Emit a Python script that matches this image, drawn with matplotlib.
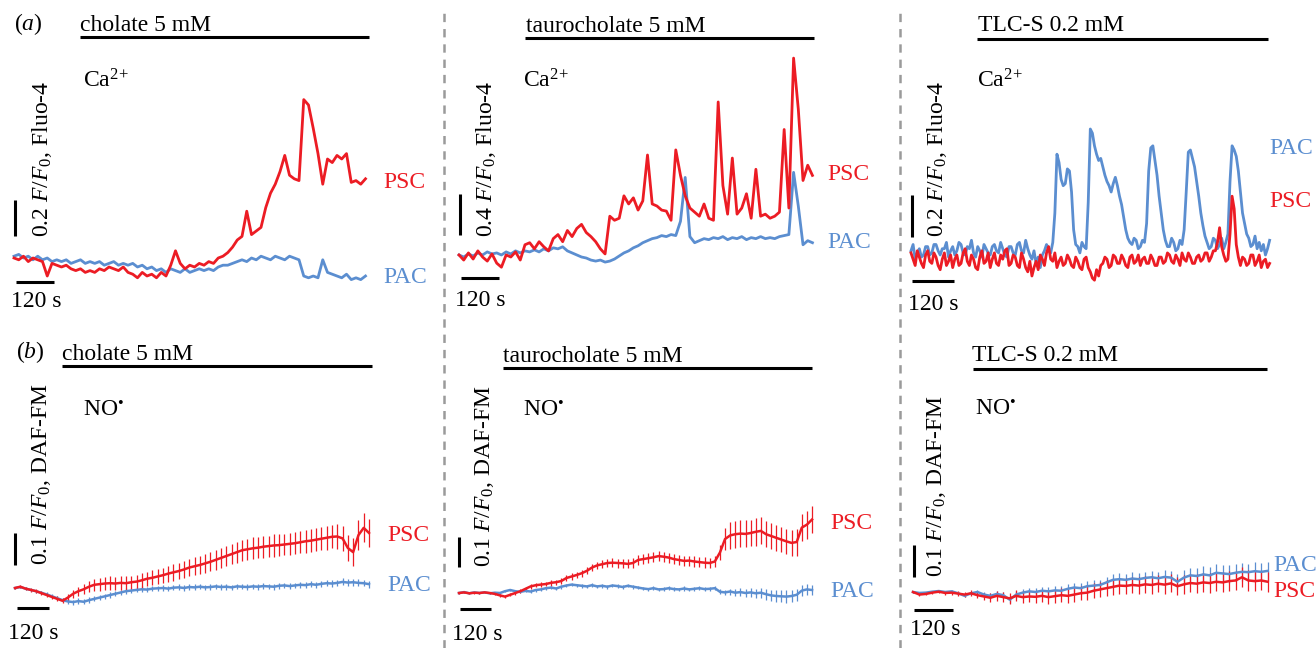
import numpy as np
import matplotlib
matplotlib.use("Agg")
import matplotlib.pyplot as plt
from matplotlib.lines import Line2D

plt.rcParams["font.family"] = "Liberation Serif"
plt.rcParams["mathtext.fontset"] = "custom"
plt.rcParams["mathtext.rm"] = "Liberation Serif"
plt.rcParams["mathtext.it"] = "Liberation Serif:italic"
plt.rcParams["lines.scale_dashes"] = False

W, H = 1316, 648
RED = "#ec1c24"
BLUE = "#5b8ed0"
FS = 17

# ---------------- data ----------------
# (a) Fluo-4 Ca2+ traces, change in F/F0 from start, one sample per dt seconds
a1_dt = 15
a1_psc = [0.00, -0.01, 0.01, -0.02, 0.00, -0.01, -0.02, -0.10, -0.03, -0.04,
          -0.05, -0.04, -0.06, -0.07, -0.06, -0.08, -0.07, -0.08, -0.06, -0.07,
          -0.05, -0.06, -0.07, -0.05, -0.08, -0.09, -0.11, -0.08, -0.10, -0.09,
          -0.11, -0.08, -0.10, -0.04, 0.04, -0.03, -0.06, -0.04, -0.05, -0.03,
          -0.04, -0.02, -0.03, 0.00, 0.01, 0.03, 0.06, 0.10, 0.12, 0.26,
          0.13, 0.15, 0.17, 0.28, 0.36, 0.41, 0.48, 0.57, 0.46, 0.44,
          0.43, 0.88, 0.85, 0.72, 0.58, 0.41, 0.55, 0.53, 0.57, 0.55,
          0.58, 0.42, 0.43, 0.41, 0.44]
a1_pac = [0.01, 0.02, 0.00, 0.01, -0.01, 0.01, -0.01, 0.00, -0.02, -0.01,
          -0.02, -0.01, -0.03, -0.02, -0.01, -0.03, -0.02, -0.03, -0.02, -0.04,
          -0.03, -0.02, -0.04, -0.03, -0.04, -0.03, -0.05, -0.04, -0.06, -0.05,
          -0.07, -0.06, -0.08, -0.06, -0.07, -0.08, -0.06, -0.08, -0.07, -0.06,
          -0.07, -0.06, -0.07, -0.05, -0.04, -0.04, -0.03, -0.02, -0.01, -0.02,
          0.00, -0.01, 0.01, 0.00, -0.01, 0.01, 0.00, -0.01, 0.01, 0.00,
          -0.01, -0.10, -0.11, -0.10, -0.11, -0.01, -0.08, -0.09, -0.10, -0.11,
          -0.09, -0.12, -0.11, -0.12, -0.10]

a2_dt = 15
a2_psc = [0.02, -0.03, 0.04, -0.02, 0.06, 0.00, -0.04, 0.03, -0.06, -0.10,
          0.02, 0.00, 0.05, -0.03, 0.12, 0.14, 0.08, 0.15, 0.10, 0.06,
          0.18, 0.22, 0.15, 0.26, 0.20, 0.28, 0.32, 0.24, 0.20, 0.15,
          0.08, 0.03, 0.40, 0.36, 0.38, 0.60, 0.52, 0.58, 0.46, 0.55,
          1.00, 0.52, 0.50, 0.46, 0.45, 0.36, 1.05, 0.80, 0.60, 0.48,
          0.44, 0.40, 0.52, 0.38, 0.36, 1.52, 0.70, 0.42, 0.97, 0.42,
          0.48, 0.62, 0.38, 0.86, 0.40, 0.42, 0.38, 0.40, 0.44, 1.25,
          0.48, 1.95, 1.45, 0.75, 0.90, 0.80]
a2_pac = [0.02, 0.00, 0.03, 0.01, 0.04, 0.02, 0.05, 0.03, 0.04, 0.02,
          0.05, 0.03, 0.06, 0.04, 0.06, 0.05, 0.07, 0.05, 0.08, 0.06,
          0.09, 0.08, 0.10, 0.06, 0.04, 0.02, 0.00, -0.01, -0.03, -0.04,
          -0.03, -0.05, -0.04, -0.02, 0.01, 0.04, 0.06, 0.09, 0.11, 0.14,
          0.16, 0.18, 0.19, 0.21, 0.20, 0.22, 0.21, 0.35, 0.78, 0.20,
          0.14, 0.16, 0.18, 0.17, 0.19, 0.18, 0.20, 0.17, 0.19, 0.18,
          0.20, 0.17, 0.19, 0.18, 0.20, 0.18, 0.19, 0.18, 0.20, 0.21,
          0.22, 0.83, 0.50, 0.12, 0.16, 0.14]

a3_dt = 6
a3_pac = [0.02, 0.05, -0.02, 0.01, 0.03, -0.01, 0.00, 0.04, 0.04, 0.00,
          0.01, 0.05, 0.05, 0.02, 0.00, 0.03, 0.03, 0.06, -0.01, 0.02,
          0.04, 0.00, 0.02, 0.06, 0.05, 0.01, 0.00, 0.04, 0.03, 0.07,
          0.01, -0.01, 0.04, 0.02, -0.01, 0.05, 0.03, 0.01, 0.00, 0.04,
          0.05, 0.02, 0.01, 0.06, 0.03, 0.00, -0.01, 0.04, 0.04, 0.01,
          0.00, 0.05, 0.06, 0.02, 0.01, 0.07, 0.03, 0.00, -0.02, 0.02,
          -0.04, -0.01, -0.06, 0.00, 0.02, 0.05, 0.03, 0.01, 0.06, 0.20,
          0.48, 0.44, 0.36, 0.33, 0.34, 0.41, 0.40, 0.30, 0.12, 0.05,
          0.04, 0.01, 0.06, 0.04, 0.03, 0.25, 0.60, 0.58, 0.52, 0.48,
          0.45, 0.46, 0.42, 0.38, 0.35, 0.33, 0.30, 0.34, 0.37, 0.33,
          0.28, 0.24, 0.18, 0.12, 0.08, 0.06, 0.05, 0.08, 0.07, 0.03,
          0.04, 0.07, 0.06, 0.15, 0.40, 0.51, 0.52, 0.45, 0.38, 0.28,
          0.20, 0.12, 0.07, 0.04, 0.04, 0.08, 0.06, 0.02, 0.03, 0.07,
          0.05, 0.12, 0.30, 0.49, 0.50, 0.46, 0.42, 0.35, 0.28, 0.20,
          0.14, 0.09, 0.06, 0.03, 0.04, 0.08, 0.07, 0.03, 0.05, 0.08,
          0.03, 0.06, 0.10, 0.35, 0.52, 0.50, 0.47, 0.40, 0.30, 0.20,
          0.15, 0.10, 0.08, 0.04, 0.05, 0.09, 0.03, 0.06, 0.02, 0.05,
          0.00, 0.03, 0.07]
a3_psc = [0.01, -0.02, -0.05, 0.02, -0.01, -0.04, -0.06, 0.00, 0.02, -0.03,
          -0.04, 0.01, -0.01, -0.05, -0.07, -0.02, 0.01, -0.05, -0.03, 0.00,
          -0.06, -0.02, 0.00, -0.05, -0.04, 0.01, 0.03, -0.03, -0.05, 0.00,
          -0.02, -0.06, -0.07, -0.01, 0.02, -0.04, -0.03, 0.01, -0.06, -0.02,
          0.01, -0.04, -0.05, 0.00, -0.02, 0.02, 0.03, -0.05, -0.04, 0.00,
          -0.01, -0.05, -0.06, 0.01, -0.02, -0.06, -0.08, -0.03, -0.10, -0.06,
          -0.03, -0.07, 0.00, -0.02, -0.05, 0.01, 0.04, -0.02, -0.03, 0.01,
          -0.06, -0.03, -0.01, -0.05, -0.04, 0.00, -0.02, -0.05, -0.06, -0.01,
          -0.03, -0.06, -0.07, -0.02, -0.01, -0.06, -0.08, -0.11, -0.12, -0.07,
          -0.10, -0.05, -0.04, -0.01, -0.02, -0.06, -0.05, 0.00, -0.01, -0.04,
          -0.04, 0.00, -0.02, -0.05, -0.06, -0.01, 0.00, -0.04, -0.03, 0.00,
          -0.05, -0.02, -0.01, -0.04, -0.04, 0.00, -0.02, -0.05, -0.05, -0.01,
          -0.01, -0.04, -0.03, 0.01, 0.00, -0.03, -0.04, 0.00, -0.02, -0.05,
          0.01, -0.02, -0.03, 0.01, -0.01, -0.04, -0.04, -0.01, 0.00, -0.03,
          -0.02, 0.01, 0.01, -0.03, -0.01, 0.02, 0.02, 0.06, 0.13, 0.04,
          0.00, -0.03, -0.02, 0.10, 0.28, 0.22, 0.05, -0.01, -0.05, -0.01,
          -0.02, -0.05, -0.04, 0.00, 0.00, -0.05, -0.03, 0.00, -0.06, -0.03,
          -0.02, -0.06, -0.04]

# (b) DAF-FM NO traces, mean and SEM of change in F/F0, one sample per 20 s
b_dt = 20
b1_psc = [0.000, 0.004, -0.002, -0.006, -0.010, -0.016, -0.022, -0.028, -0.034, -0.040,
          -0.030, -0.018, -0.010, -0.004, 0.004, 0.010, 0.012, 0.014, 0.015, 0.014,
          0.016, 0.015, 0.018, 0.020, 0.024, 0.029, 0.032, 0.036, 0.040, 0.045,
          0.049, 0.053, 0.058, 0.064, 0.068, 0.072, 0.077, 0.082, 0.088, 0.094,
          0.100, 0.106, 0.112, 0.118, 0.121, 0.124, 0.126, 0.129, 0.131, 0.133,
          0.134, 0.136, 0.138, 0.140, 0.143, 0.146, 0.148, 0.151, 0.154, 0.157,
          0.160, 0.161, 0.155, 0.125, 0.112, 0.165, 0.188, 0.172]
b1_psc_sem = [0.004, 0.004, 0.005, 0.005, 0.006, 0.006, 0.007, 0.007, 0.008, 0.008, 0.010,
              0.012, 0.014, 0.016, 0.018, 0.019, 0.020, 0.020, 0.021, 0.020, 0.021, 0.022,
              0.021, 0.022, 0.023, 0.022,
              0.023, 0.024, 0.024, 0.025, 0.026, 0.026, 0.027, 0.028, 0.028, 0.029, 0.030,
              0.030, 0.031, 0.031, 0.032,
              0.032, 0.033, 0.033, 0.032, 0.034, 0.033, 0.034, 0.033, 0.035, 0.034, 0.033,
              0.035, 0.034, 0.035, 0.036,
              0.036, 0.035, 0.036, 0.037, 0.036, 0.038, 0.040, 0.042, 0.044, 0.046, 0.045, 0.044]
b1_pac = [0.000, 0.003, -0.002, -0.006, -0.010, -0.015, -0.020, -0.026, -0.032, -0.038,
          -0.042, -0.044, -0.041, -0.043, -0.038, -0.034, -0.030, -0.026, -0.022, -0.018,
          -0.014, -0.010, -0.008, -0.006, -0.004, -0.005, -0.002, -0.001, 0.000, -0.002,
          0.001, 0.002, 0.000, 0.003, 0.002, 0.004, 0.002, 0.003, 0.005, 0.003,
          0.004, 0.002, 0.005, 0.004, 0.003, 0.005, 0.004, 0.006, 0.005, 0.004,
          0.007, 0.008, 0.006, 0.008, 0.010, 0.009, 0.012, 0.010, 0.013, 0.015,
          0.014, 0.016, 0.019, 0.017, 0.018, 0.016, 0.015, 0.012]
b1_pac_sem = [0.003, 0.003, 0.004, 0.004, 0.005, 0.005, 0.006, 0.006, 0.007, 0.007, 0.008,
              0.008, 0.009, 0.008, 0.009, 0.008, 0.009, 0.008, 0.009, 0.008, 0.008, 0.009,
              0.008, 0.008, 0.009, 0.008,
              0.008, 0.008, 0.009, 0.008, 0.008, 0.009, 0.008, 0.008, 0.009, 0.008, 0.008,
              0.009, 0.008, 0.008, 0.009,
              0.008, 0.009, 0.008, 0.009, 0.008, 0.009, 0.009, 0.008, 0.009, 0.009, 0.008,
              0.009, 0.009, 0.010, 0.009,
              0.010, 0.009, 0.010, 0.010, 0.011, 0.010, 0.011, 0.010, 0.011, 0.011, 0.010, 0.011]

b2_psc = [0.000, 0.002, -0.001, 0.001, 0.000, 0.002, 0.000, -0.003, -0.008, -0.012,
          -0.006, 0.000, 0.006, 0.014, 0.022, 0.026, 0.028, 0.030, 0.034, 0.036,
          0.040, 0.050, 0.055, 0.060, 0.066, 0.074, 0.085, 0.092, 0.096, 0.100,
          0.101, 0.100, 0.099, 0.097, 0.100, 0.110, 0.113, 0.116, 0.119, 0.123,
          0.121, 0.118, 0.113, 0.110, 0.107, 0.108, 0.105, 0.103, 0.101, 0.100,
          0.105, 0.135, 0.180, 0.192, 0.196, 0.198, 0.197, 0.200, 0.204, 0.207,
          0.196, 0.190, 0.184, 0.178, 0.172, 0.167, 0.170, 0.218, 0.228, 0.245]
b2_psc_sem = [0.002, 0.002, 0.003, 0.003, 0.003, 0.003, 0.004, 0.004, 0.004, 0.005, 0.005,
              0.005, 0.006, 0.006, 0.007, 0.007, 0.008, 0.008, 0.009, 0.009, 0.010, 0.010,
              0.011, 0.011, 0.012, 0.012,
              0.013, 0.013, 0.014, 0.014, 0.015, 0.015, 0.016, 0.015, 0.016, 0.016, 0.017,
              0.016, 0.017, 0.017, 0.016,
              0.017, 0.016, 0.017, 0.018, 0.017, 0.018, 0.017, 0.018, 0.018, 0.019, 0.025,
              0.038, 0.044, 0.045, 0.044,
              0.045, 0.044, 0.046, 0.045, 0.044, 0.043, 0.044, 0.042, 0.043, 0.044, 0.045,
              0.046, 0.047, 0.046]
b2_pac = [0.000, 0.003, -0.001, 0.002, 0.000, 0.002, -0.001, 0.001, 0.000, 0.006,
          0.010, 0.006, 0.004, 0.007, 0.005, 0.010, 0.012, 0.016, 0.018, 0.015,
          0.021, 0.025, 0.028, 0.026, 0.024, 0.022, 0.026, 0.022, 0.024, 0.021,
          0.025, 0.023, 0.020, 0.024, 0.021, 0.018, 0.015, 0.013, 0.016, 0.012,
          0.013, 0.016, 0.013, 0.012, 0.015, 0.012, 0.014, 0.016, 0.013, 0.014,
          0.016, 0.004, 0.002, 0.005, 0.001, 0.003, 0.000, 0.002, -0.001, 0.001,
          -0.004, -0.008, -0.010, -0.011, -0.012, -0.010, -0.006, 0.008, 0.012, 0.010]
b2_pac_sem = [0.002, 0.002, 0.002, 0.002, 0.003, 0.003, 0.003, 0.003, 0.003, 0.004, 0.004,
              0.004, 0.004, 0.005, 0.004, 0.005, 0.005, 0.005, 0.005, 0.005, 0.006, 0.005,
              0.006, 0.005, 0.006, 0.006,
              0.006, 0.005, 0.006, 0.006, 0.005, 0.006, 0.006, 0.005, 0.006, 0.006, 0.006,
              0.005, 0.006, 0.006, 0.006,
              0.006, 0.007, 0.006, 0.007, 0.006, 0.007, 0.007, 0.006, 0.007, 0.007, 0.008,
              0.009, 0.010, 0.012, 0.013,
              0.014, 0.015, 0.016, 0.017, 0.018, 0.019, 0.020, 0.020, 0.021, 0.020, 0.019,
              0.018, 0.017, 0.016]

b3_pac = [0.000, -0.003, -0.002, 0.001, 0.003, 0.000, 0.002, -0.004, -0.012, -0.004,
          0.000, -0.008, -0.012, -0.006, -0.010, -0.024, -0.008, -0.002, 0.002, 0.000,
          0.004, 0.002, 0.005, 0.004, 0.010, 0.014, 0.012, 0.018, 0.020, 0.022,
          0.030, 0.038, 0.040, 0.038, 0.042, 0.040, 0.044, 0.046, 0.043, 0.047,
          0.045, 0.032, 0.045, 0.052, 0.050, 0.055, 0.052, 0.060, 0.058, 0.056,
          0.060, 0.063, 0.062, 0.065, 0.063, 0.066]
b3_pac_sem = [0.002, 0.002, 0.003, 0.002, 0.003, 0.003, 0.004, 0.004, 0.005, 0.005, 0.006,
              0.007, 0.008, 0.008, 0.009, 0.010, 0.010, 0.011, 0.011, 0.012, 0.012, 0.013,
              0.013, 0.014, 0.014, 0.015,
              0.015, 0.016, 0.016, 0.017, 0.017, 0.018, 0.018, 0.019, 0.019, 0.020, 0.020,
              0.021, 0.021, 0.022, 0.022,
              0.023, 0.023, 0.024, 0.024, 0.025, 0.025, 0.026, 0.026, 0.027, 0.027, 0.028,
              0.027, 0.028, 0.027, 0.028]
b3_psc = [0.000, -0.008, -0.006, -0.002, 0.001, -0.003, -0.002, -0.005, -0.008, -0.004,
          -0.010, -0.014, -0.018, -0.012, -0.016, -0.020, -0.012, -0.016, -0.014, -0.015,
          -0.012, -0.016, -0.013, -0.010, -0.012, -0.008, -0.004, -0.002, 0.004, 0.008,
          0.012, 0.016, 0.020, 0.019, 0.022, 0.020, 0.024, 0.022, 0.026, 0.023,
          0.027, 0.018, 0.024, 0.028, 0.026, 0.030, 0.028, 0.032, 0.030, 0.034,
          0.036, 0.046, 0.036, 0.034, 0.036, 0.032]
b3_psc_sem = [0.002, 0.003, 0.003, 0.004, 0.004, 0.005, 0.006, 0.007, 0.008, 0.009, 0.010,
              0.012, 0.014, 0.015, 0.016, 0.017, 0.017, 0.018, 0.018, 0.019, 0.019, 0.020,
              0.020, 0.021, 0.021, 0.022,
              0.022, 0.023, 0.023, 0.024, 0.024, 0.025, 0.025, 0.026, 0.026, 0.026, 0.027,
              0.027, 0.027, 0.028, 0.028,
              0.028, 0.029, 0.029, 0.029, 0.030, 0.030, 0.030, 0.031, 0.031, 0.031, 0.031,
              0.032, 0.032, 0.031, 0.032]

# treatment periods (s)
treat = {"a1": (208, 1121), "a2": (210, 1130), "a3": (190, 1027),
         "b1": (178, 1351), "b2": (172, 1380), "b3": (186, 1098)}

# ---------------- layout ----------------
fig = plt.figure(figsize=(W / 100, H / 100), dpi=100)


def ftext(x, y, s, **kw):
    kw.setdefault("fontsize", FS)
    fig.text(x / W, 1 - y / H, s, **kw)


def make_ax(box, x0, yb, pps, ppu):
    left, top, right, bottom = box
    ax = fig.add_axes([left / W, 1 - bottom / H, (right - left) / W, (bottom - top) / H])
    ax.set_xlim((left - x0) / pps, (right - x0) / pps)
    ax.set_ylim((yb - bottom) / ppu, (yb - top) / ppu)
    ax.axis("off")
    return ax


# per panel: box, time-zero px, baseline px, px per s, px per unit,
# treatment bar y, vertical bar (x, bottom y, size), horizontal bar (x, y)
geo = {
    "a1": dict(box=(0, 0, 444, 325), x0=14, yb=258, pps=38 / 120, ppu=180,
               ty=37, vbar=(15, 236, 0.2), hbar=(16, 282)),
    "a2": dict(box=(444, 0, 900, 325), x0=459, yb=257, pps=37.7 / 120, ppu=102,
               ty=38, vbar=(460, 235, 0.4), hbar=(461, 278)),
    "a3": dict(box=(900, 0, 1316, 325), x0=911, yb=255, pps=41.7 / 120, ppu=210,
               ty=39, vbar=(912, 237, 0.2), hbar=(912, 281)),
    "b1": dict(box=(0, 325, 444, 648), x0=15, yb=588, pps=31.7 / 120, ppu=320,
               ty=366, vbar=(15, 565, 0.1), hbar=(17, 608)),
    "b2": dict(box=(444, 325, 900, 648), x0=459, yb=593, pps=30.7 / 120, ppu=300,
               ty=368, vbar=(459, 567, 0.1), hbar=(460, 609)),
    "b3": dict(box=(900, 325, 1316, 648), x0=913, yb=592, pps=38.7 / 120, ppu=320,
               ty=369, vbar=(914, 577, 0.1), hbar=(914, 610)),
}

axes = {}
for key, g in geo.items():
    ax = make_ax(g["box"], g["x0"], g["yb"], g["pps"], g["ppu"])
    axes[key] = ax
    tx = lambda px, g=g: (px - g["x0"]) / g["pps"]
    vy = lambda py, g=g: (g["yb"] - py) / g["ppu"]
    t0, t1 = treat[key]
    ax.plot([t0, t1], [vy(g["ty"])] * 2, color="black", lw=2.2, solid_capstyle="butt", clip_on=False)
    vx, vb, size = g["vbar"]
    ax.plot([tx(vx)] * 2, [vy(vb), vy(vb) + size], color="black", lw=2.2, solid_capstyle="butt")
    hx, hy = g["hbar"]
    ax.plot([tx(hx), tx(hx) + 120], [vy(hy)] * 2, color="black", lw=2.2, solid_capstyle="butt")

# Ca2+ traces
for key, dt, pac, psc in [("a1", a1_dt, a1_pac, a1_psc), ("a2", a2_dt, a2_pac, a2_psc),
                          ("a3", a3_dt, a3_pac, a3_psc)]:
    ax = axes[key]
    ax.plot(np.arange(len(pac)) * dt, pac, color=BLUE, lw=2.0)
    ax.plot(np.arange(len(psc)) * dt, psc, color=RED, lw=2.0)

# NO traces with SEM
for key, pac, pac_sem, psc, psc_sem in [("b1", b1_pac, b1_pac_sem, b1_psc, b1_psc_sem),
                                        ("b2", b2_pac, b2_pac_sem, b2_psc, b2_psc_sem),
                                        ("b3", b3_pac, b3_pac_sem, b3_psc, b3_psc_sem)]:
    ax = axes[key]
    ax.errorbar(np.arange(len(pac)) * b_dt, pac, yerr=pac_sem, color=BLUE, lw=1.8,
                elinewidth=0.9, capsize=0)
    ax.errorbar(np.arange(len(psc)) * b_dt, psc, yerr=psc_sem, color=RED, lw=1.8,
                elinewidth=0.9, capsize=0)

# ---------------- text ----------------
ftext(14, 30, "($a$)")
ftext(16, 358, "($b$)")
titles = [("cholate 5 mM", 80, 31), ("taurocholate 5 mM", 526, 32), ("TLC-S 0.2 mM", 978, 31),
          ("cholate 5 mM", 62, 360), ("taurocholate 5 mM", 503, 362), ("TLC-S 0.2 mM", 972, 361)]
for s, x, y in titles:
    ftext(x, y, s, va="baseline")

for x in (83, 523, 977):
    ftext(x, 87, r"Ca$^{2\!+}$", va="baseline")
for x, y in ((83, 416), (523, 416), (975, 415)):
    ftext(x, y, "NO$^{\u2022}$", va="baseline")

ylabels = [(r"0.2 $F/F_0$, Fluo-4", 42, 237), (r"0.4 $F/F_0$, Fluo-4", 486, 237),
           (r"0.2 $F/F_0$, Fluo-4", 937, 237),
           (r"0.1 $F/F_0$, DAF-FM", 42, 565), (r"0.1 $F/F_0$, DAF-FM", 485, 567),
           (r"0.1 $F/F_0$, DAF-FM", 937, 577)]
for s, x, y in ylabels:
    ftext(x, y, s, rotation=90, ha="center", va="bottom")

for x, y in ((11, 307), (455, 306), (908, 310), (8, 639), (452, 640), (910, 635)):
    ftext(x, y, "120 s", va="baseline")

cell_labels = [("PSC", RED, 383, 188), ("PAC", BLUE, 383, 283),
               ("PSC", RED, 827, 180), ("PAC", BLUE, 827, 248),
               ("PAC", BLUE, 1269, 154), ("PSC", RED, 1269, 207),
               ("PSC", RED, 387, 541), ("PAC", BLUE, 387, 591),
               ("PSC", RED, 830, 529), ("PAC", BLUE, 830, 597),
               ("PAC", BLUE, 1273, 571), ("PSC", RED, 1273, 597)]
for s, c, x, y in cell_labels:
    ftext(x, y, s, color=c, va="baseline")

# dashed separators
for x in (444, 900):
    fig.add_artist(Line2D([x / W, x / W], [0, 1 - 12 / H], transform=fig.transFigure,
                          color="#9a9a9a", lw=1.8, dashes=(6, 5)))

fig.savefig("out.png", dpi=100)
